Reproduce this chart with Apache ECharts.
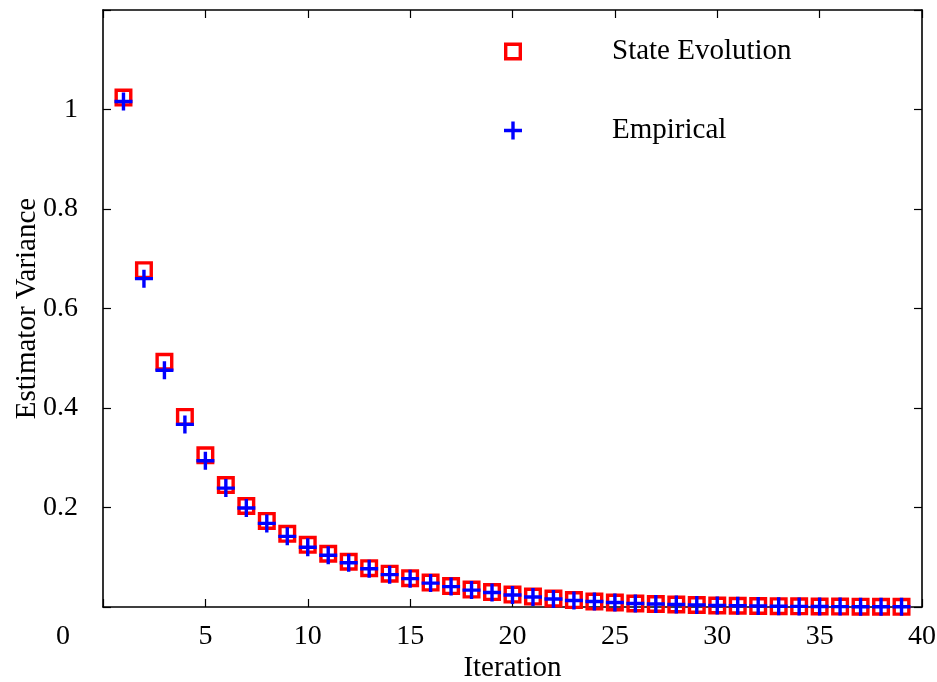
<!DOCTYPE html>
<html>
<head>
<meta charset="utf-8">
<script src="https://cdn.jsdelivr.net/npm/echarts@6/dist/echarts.min.js"></script>
<style>
html,body{margin:0;padding:0;background:#fff;}
#chart{width:937px;height:682px;}
</style>
</head>
<body>
<div id="chart"></div>
<script>
const iterations = [1,2,3,4,5,6,7,8,9,10,11,12,13,14,15,16,17,18,19,20,21,22,23,24,25,26,27,28,29,30,31,32,33,34,35,36,37,38,39];
const stateEvolution = [1.024,0.677,0.493,0.382,0.305,0.245,0.203,0.173,0.147,0.125,0.107,0.091,0.078,0.067,0.058,0.049,0.042,0.035,0.030,0.025,0.021,0.017,0.014,0.011,0.009,0.007,0.006,0.005,0.004,0.003,0.0025,0.002,0.0016,0.0013,0.001,0.0008,0.0006,0.0005,0.0004];
const empirical = [1.016,0.660,0.476,0.367,0.294,0.239,0.199,0.168,0.142,0.120,0.104,0.089,0.077,0.065,0.057,0.048,0.041,0.034,0.029,0.024,0.020,0.016,0.013,0.011,0.009,0.007,0.006,0.005,0.004,0.003,0.0024,0.0019,0.0015,0.0012,0.001,0.0008,0.0006,0.0005,0.0004];
const xTicks = [0,5,10,15,20,25,30,35,40];
const yTickLabels = {0.2:'0.2',0.4:'0.4',0.6:'0.6',0.8:'0.8',1:'1'};
const seriesNames = ['State Evolution','Empirical'];

const FONT = 'Liberation Serif';
const squareRing = 'path://M0,0h18v18h-18z M3.4,3.4v11.2h11.2v-11.2z';
const plusSign = 'path://M7.3,0h3.4v7.3h7.3v3.4h-7.3v7.3h-3.4v-7.3h-7.3v-3.4h7.3z';

function axisLine(){ return {show:true, onZero:false, lineStyle:{color:'#000', width:1.6}}; }
function tick(){ return {show:true, inside:true, length:8, lineStyle:{color:'#000', width:1.2}}; }

const chart = echarts.init(document.getElementById('chart'), null, {renderer:'canvas'});
chart.setOption({
  animation:false,
  backgroundColor:'#fff',
  textStyle:{fontFamily:FONT},
  grid:{left:103, right:15, top:10, bottom:75, containLabel:false, outerBoundsMode:'none'},
  legend:{
    orient:'vertical', left:499, top:32,
    itemWidth:188, itemHeight:18, itemGap:50,
    textStyle:{fontFamily:FONT, fontSize:29, color:'#000'},
    data:[{name:seriesNames[0], icon:squareRing},{name:seriesNames[1], icon:plusSign}]
  },
  xAxis:[{
    type:'value', min:0, max:40, interval:5, position:'bottom', gridIndex:0,
    name:'Iteration', nameLocation:'middle', nameGap:47, nameMoveOverlap:false,
    nameTextStyle:{fontFamily:FONT, fontSize:29, color:'#000'},
    axisLine:axisLine(), axisTick:tick(), splitLine:{show:false},
    axisLabel:{fontFamily:FONT, fontSize:28, color:'#000', margin:16,
      formatter:function(v){ return xTicks.indexOf(v)===0 ? '{z|'+v+'}' : String(v); },
      rich:{z:{fontFamily:FONT, fontSize:28, color:'#000', padding:[0,80,0,0]}}}
  },{
    type:'value', min:0, max:40, interval:5, position:'top', gridIndex:0,
    axisLine:axisLine(), axisTick:tick(), axisLabel:{show:false}, splitLine:{show:false}
  }],
  yAxis:[{
    type:'value', min:0, max:1.2, interval:0.2, position:'left', gridIndex:0,
    name:'Estimator Variance', nameLocation:'middle', nameGap:61, nameMoveOverlap:false,
    nameTextStyle:{fontFamily:FONT, fontSize:29, color:'#000'},
    axisLine:axisLine(), axisTick:tick(), splitLine:{show:false},
    axisLabel:{fontFamily:FONT, fontSize:28, color:'#000', margin:25,
      formatter:function(v){ const k = Math.round(v*10)/10; return yTickLabels[k] || ''; }}
  },{
    type:'value', min:0, max:1.2, interval:0.2, position:'right', gridIndex:0,
    axisLine:axisLine(), axisTick:tick(), axisLabel:{show:false}, splitLine:{show:false}
  }],
  series:[{
    name:seriesNames[0], type:'scatter', symbol:squareRing, symbolSize:18,
    xAxisIndex:0, yAxisIndex:0,
    itemStyle:{color:'#ff0000', opacity:1},
    data:iterations.map((x,i)=>[x,stateEvolution[i]]), z:2
  },{
    name:seriesNames[1], type:'scatter', symbol:plusSign, symbolSize:18,
    xAxisIndex:0, yAxisIndex:0,
    itemStyle:{color:'#0000ff', opacity:1},
    data:iterations.map((x,i)=>[x,empirical[i]]), z:3
  }]
});
</script>
</body>
</html>
